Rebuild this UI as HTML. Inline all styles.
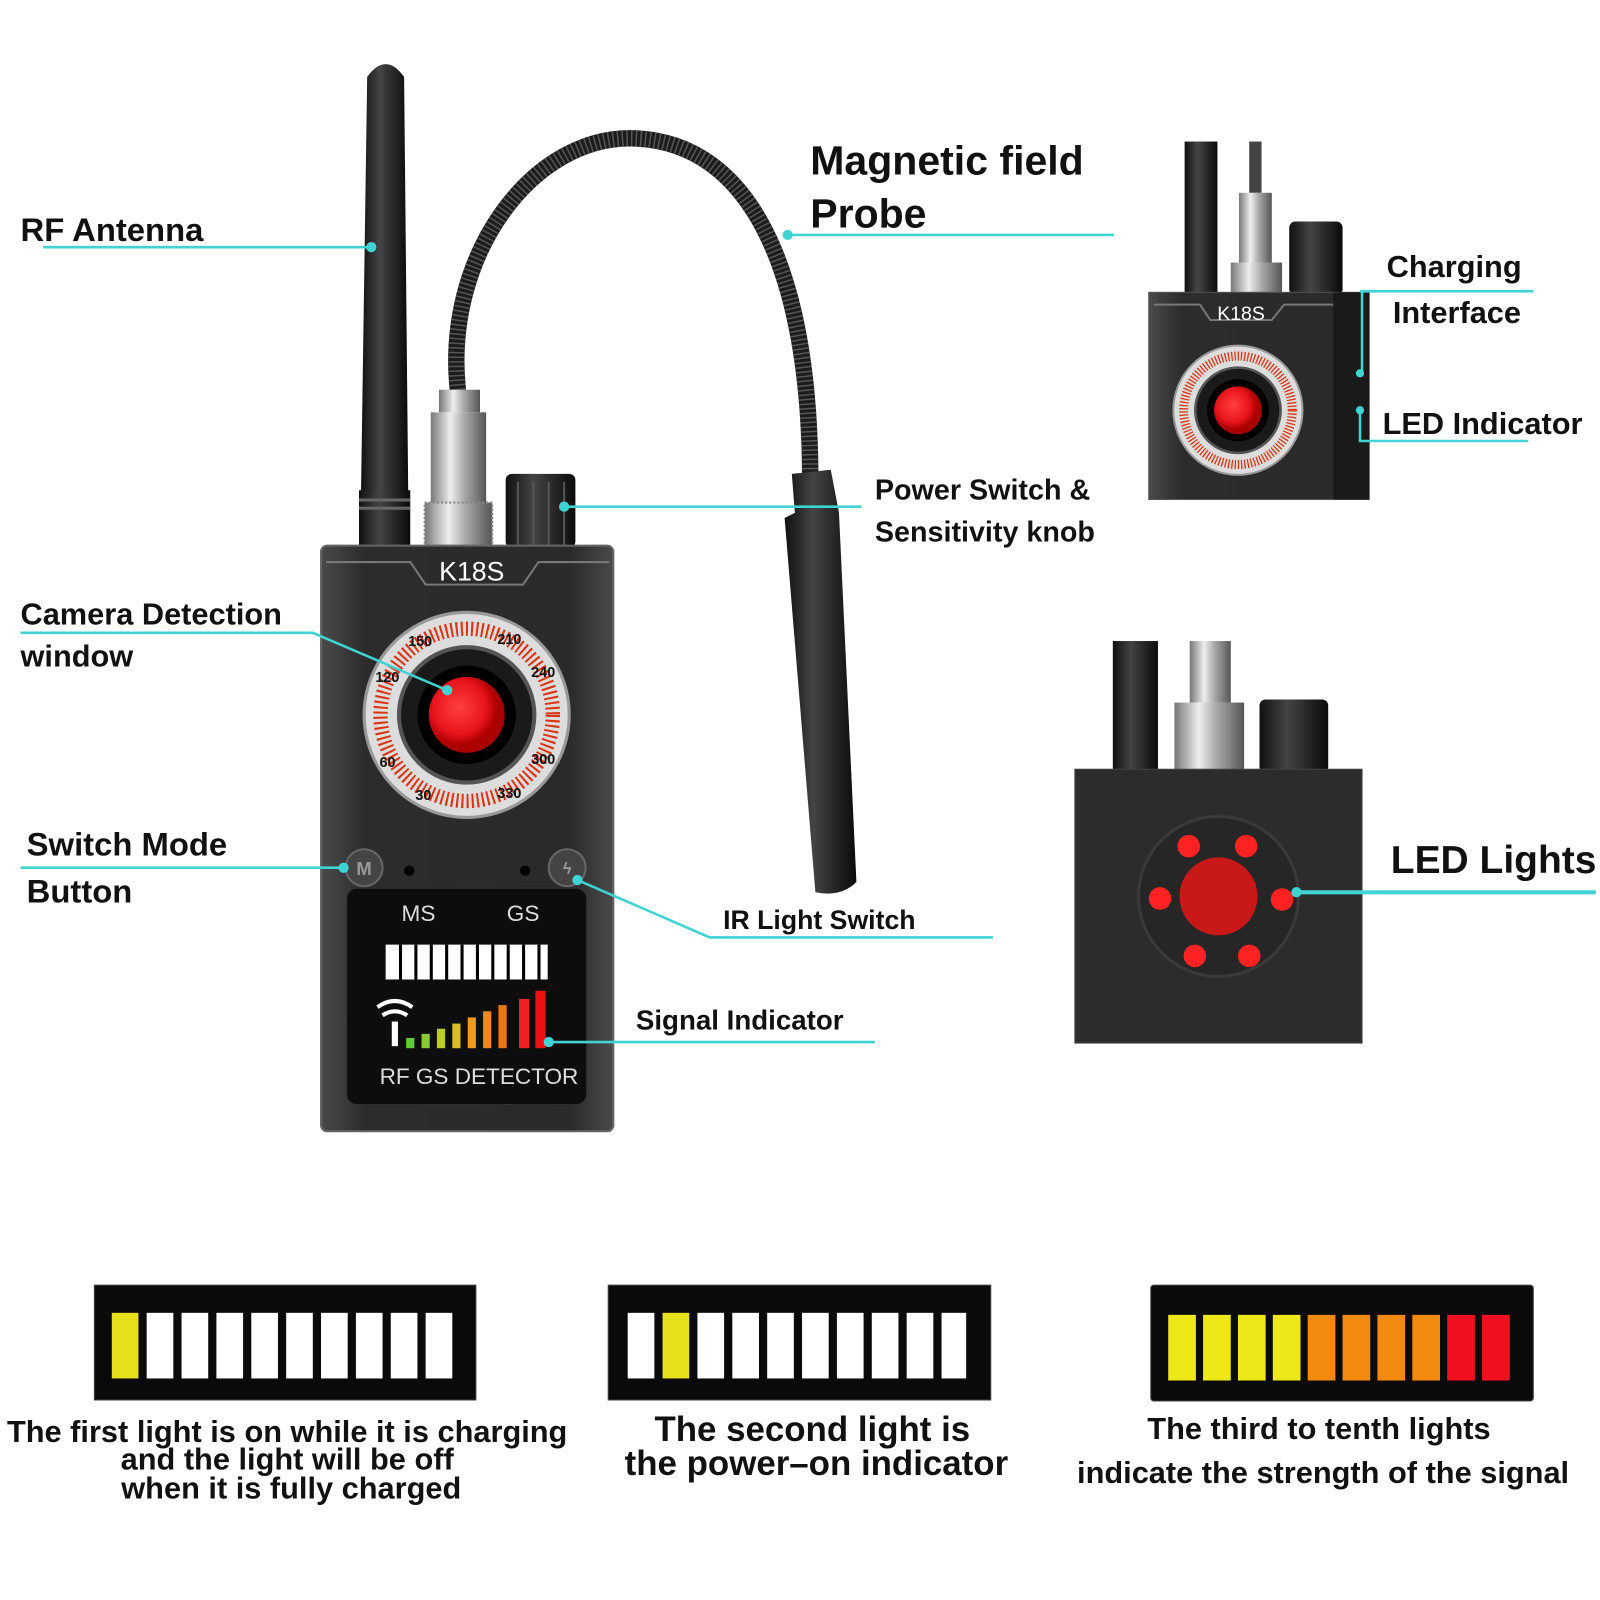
<!DOCTYPE html>
<html><head><meta charset="utf-8"><style>
html,body{margin:0;padding:0;background:#fff;width:1600px;height:1600px;overflow:hidden}
svg{display:block}
text{font-family:"Liberation Sans",sans-serif;font-weight:bold;fill:#111}
</style></head><body>
<svg width="1600" height="1600" viewBox="0 0 1560 1560" xmlns="http://www.w3.org/2000/svg">
<defs>
<linearGradient id="silver" x1="0" x2="1"><stop offset="0" stop-color="#777"/><stop offset=".35" stop-color="#eee"/><stop offset=".6" stop-color="#aaa"/><stop offset="1" stop-color="#555"/></linearGradient>
<linearGradient id="body" x1="0" x2="1"><stop offset="0" stop-color="#4a4a4a"/><stop offset=".15" stop-color="#2c2c2c"/><stop offset=".85" stop-color="#2a2a2a"/><stop offset="1" stop-color="#4a4a4a"/></linearGradient>
<linearGradient id="rod" x1="0" x2="1"><stop offset="0" stop-color="#111"/><stop offset=".4" stop-color="#444"/><stop offset="1" stop-color="#0a0a0a"/></linearGradient>
<radialGradient id="red" cx=".4" cy=".4"><stop offset="0" stop-color="#ff4040"/><stop offset=".7" stop-color="#e8141c"/><stop offset="1" stop-color="#a00"/></radialGradient>
<g id="dial">
<circle r="100" fill="#ddd" stroke="#999" stroke-width="3"/>
<circle r="84" fill="none" stroke="#d31" stroke-width="14" stroke-dasharray="2 3"/>
<circle r="66" fill="#1a1a1a" stroke="#555" stroke-width="4"/>
<circle r="48" fill="#000"/>
<circle r="37" fill="url(#red)"/>
</g>
</defs>

<!-- ===== MAIN DEVICE ===== -->
<!-- antenna -->
<path d="M358 75 Q376 50 394 75 L398 480 L352 480 Z" fill="url(#rod)"/>
<rect x="350" y="478" width="50" height="56" fill="url(#rod)"/>
<rect x="350" y="486" width="50" height="3" fill="#666"/>
<rect x="350" y="494" width="50" height="3" fill="#666"/>
<!-- gooseneck -->
<path d="M447 385 C430 250 520 130 620 135 C730 140 790 260 790 470" fill="none" stroke="#1c1c1c" stroke-width="16"/>
<path d="M447 385 C430 250 520 130 620 135 C730 140 790 260 790 470" fill="none" stroke="#555" stroke-width="16" stroke-dasharray="1.5 3"/>
<!-- probe handle -->
<path d="M772 462 L810 458 L818 500 L835 860 Q820 875 795 870 L765 505 L775 500 Z" fill="url(#rod)"/>
<!-- connector -->
<rect x="428" y="380" width="40" height="22" fill="url(#silver)"/>
<rect x="420" y="402" width="54" height="90" fill="url(#silver)"/>
<rect x="414" y="490" width="66" height="42" fill="url(#silver)"/>
<rect x="414" y="490" width="66" height="42" fill="none" stroke="#888" stroke-width="2" stroke-dasharray="2 2"/>
<!-- knob -->
<rect x="493" y="462" width="68" height="72" rx="6" fill="url(#rod)"/>
<g stroke="#555" stroke-width="2"><line x1="505" y1="470" x2="505" y2="532"/><line x1="520" y1="470" x2="520" y2="532"/><line x1="535" y1="470" x2="535" y2="532"/><line x1="550" y1="470" x2="550" y2="532"/></g>
<!-- body -->
<rect x="313" y="532" width="285" height="571" rx="6" fill="url(#body)" stroke="#666" stroke-width="2"/>
<path d="M318 548 L400 548 L415 570 L510 570 L525 548 L594 548" fill="none" stroke="#777" stroke-width="2"/>
<text x="460" y="566" font-size="26" fill="#fff" style="fill:#fff;font-weight:normal" text-anchor="middle">K18S</text>
<use href="#dial" x="455" y="697"/>
<g font-size="14" style="font-weight:normal">
<text x="398" y="630" fill="#222">150</text><text x="485" y="628" fill="#222">210</text>
<text x="518" y="660" fill="#222">240</text><text x="518" y="745" fill="#222">300</text>
<text x="485" y="778" fill="#222">330</text><text x="405" y="780" fill="#222">30</text>
<text x="370" y="748" fill="#222">60</text><text x="366" y="665" fill="#222">120</text>
</g>
<circle cx="355" cy="846" r="18" fill="#444" stroke="#666" stroke-width="2"/>
<text x="355" y="853" font-size="18" text-anchor="middle" style="fill:#999">M</text>
<circle cx="553" cy="846" r="18" fill="#444" stroke="#666" stroke-width="2"/>
<text x="553" y="852" font-size="16" text-anchor="middle" style="fill:#999">ϟ</text>
<circle cx="399" cy="849" r="5" fill="#000"/><circle cx="512" cy="849" r="5" fill="#000"/>
<!-- screen -->
<rect x="338" y="866" width="234" height="211" rx="10" fill="#0d0d0d" stroke="#333"/>
<text x="408" y="898" font-size="22" text-anchor="middle" style="fill:#ddd;font-weight:normal">MS</text>
<text x="510" y="898" font-size="22" text-anchor="middle" style="fill:#ddd;font-weight:normal">GS</text>
<rect x="376" y="921" width="158" height="34" fill="#fff"/>
<g fill="#000"><rect x="389" y="921" width="3" height="34"/><rect x="404" y="921" width="3" height="34"/><rect x="419" y="921" width="3" height="34"/><rect x="434" y="921" width="3" height="34"/><rect x="449" y="921" width="3" height="34"/><rect x="464" y="921" width="3" height="34"/><rect x="479" y="921" width="3" height="34"/><rect x="494" y="921" width="3" height="34"/><rect x="509" y="921" width="3" height="34"/><rect x="524" y="921" width="3" height="34"/></g>
<path d="M368 982 Q385 970 402 982 M373 990 Q385 982 397 990" stroke="#fff" stroke-width="4" fill="none"/>
<rect x="382" y="996" width="6" height="24" fill="#fff"/>
<rect x="396" y="1012" width="8" height="10" fill="#6c3"/>
<rect x="411" y="1008" width="8" height="14" fill="#8c3"/>
<rect x="426" y="1003" width="8" height="19" fill="#bc2"/>
<rect x="441" y="998" width="8" height="24" fill="#db2"/>
<rect x="456" y="992" width="8" height="30" fill="#e92"/>
<rect x="471" y="986" width="8" height="36" fill="#e82"/>
<rect x="486" y="980" width="8" height="42" fill="#e71"/>
<rect x="506" y="974" width="10" height="48" fill="#e22"/>
<rect x="522" y="966" width="10" height="56" fill="#e11"/>
<text x="467" y="1057" font-size="22" text-anchor="middle" style="fill:#ddd;font-weight:normal">RF GS DETECTOR</text>

<!-- ===== TOP RIGHT IMAGE ===== -->
<rect x="1155" y="138" width="32" height="150" fill="url(#rod)"/>
<rect x="1218" y="138" width="12" height="50" fill="#444"/>
<rect x="1208" y="188" width="32" height="70" fill="url(#silver)"/>
<rect x="1200" y="256" width="50" height="30" fill="url(#silver)"/>
<rect x="1257" y="216" width="52" height="72" rx="6" fill="url(#rod)"/>
<rect x="1120" y="285" width="215" height="202" fill="url(#body)" stroke="#555"/>
<path d="M1125 297 L1170 297 L1180 312 L1240 312 L1252 297 L1300 297" fill="none" stroke="#777" stroke-width="2"/>
<text x="1210" y="312" font-size="19" text-anchor="middle" style="fill:#fff;font-weight:normal">K18S</text>
<use href="#dial" transform="translate(1207 400) scale(0.63)"/>
<rect x="1300" y="285" width="35" height="202" fill="#1a1a1a"/>

<!-- ===== MIDDLE RIGHT IMAGE ===== -->
<rect x="1085" y="625" width="44" height="130" fill="url(#rod)"/>
<rect x="1160" y="625" width="40" height="60" fill="url(#silver)"/>
<rect x="1145" y="685" width="68" height="65" fill="url(#silver)"/>
<rect x="1228" y="682" width="67" height="72" rx="6" fill="url(#rod)"/>
<rect x="1048" y="750" width="280" height="267" fill="#2c2c2c" stroke="#444"/>
<circle cx="1188" cy="874" r="78" fill="#262626" stroke="#3a3a3a" stroke-width="3"/>
<circle cx="1188" cy="874" r="38" fill="#c81818"/>
<g fill="#f22"><circle cx="1159" cy="825" r="11"/><circle cx="1215" cy="825" r="11"/><circle cx="1131" cy="876" r="11"/><circle cx="1250" cy="877" r="11"/><circle cx="1165" cy="932" r="11"/><circle cx="1218" cy="932" r="11"/></g>

<!-- ===== CALLOUT LINES ===== -->
<g stroke="#3fd3d3" stroke-width="2.5" fill="none">
<path d="M42 241 L362 241"/>
<path d="M768 229 L1086 229"/>
<path d="M550 494 L840 494"/>
<path d="M20 617 L305 617 L436 673"/>
<path d="M20 846 L335 846"/>
<path d="M563 858 L692 914 L968 914"/>
<path d="M535 1016 L853 1016"/>
<path d="M1326 284 L1495 284 M1328 284 L1328 364"/>
<path d="M1326 400 L1326 430 L1490 430"/>
<path d="M1264 870 L1556 870" stroke-width="4"/>
</g>
<g fill="#3fd3d3"><circle cx="362" cy="241" r="5"/><circle cx="768" cy="229" r="5"/><circle cx="550" cy="494" r="5"/><circle cx="436" cy="673" r="5"/><circle cx="335" cy="846" r="5"/><circle cx="563" cy="858" r="5"/><circle cx="535" cy="1016" r="5"/><circle cx="1326" cy="364" r="4"/><circle cx="1326" cy="400" r="4"/><circle cx="1264" cy="870" r="5"/></g>

<!-- ===== LABELS ===== -->
<text x="20" y="235" font-size="32">RF Antenna</text>
<text x="790" y="170" font-size="40">Magnetic field</text>
<text x="790" y="222" font-size="40">Probe</text>
<text x="1352" y="270" font-size="30">Charging</text>
<text x="1358" y="315" font-size="30">Interface</text>
<text x="1348" y="423" font-size="30">LED Indicator</text>
<text x="853" y="487" font-size="28">Power Switch &amp;</text>
<text x="853" y="528" font-size="28">Sensitivity knob</text>
<text x="20" y="609" font-size="30">Camera Detection</text>
<text x="20" y="650" font-size="30">window</text>
<text x="26" y="834" font-size="32">Switch Mode</text>
<text x="26" y="880" font-size="32">Button</text>
<text x="705" y="906" font-size="26">IR Light Switch</text>
<text x="620" y="1004" font-size="27">Signal Indicator</text>
<text x="1356" y="851" font-size="38">LED Lights</text>

<!-- ===== BOTTOM BARS ===== -->
<rect x="92" y="1253" width="372" height="112" fill="#0a0a0a" stroke="#444"/>
<g fill="#fff">
<rect x="143" y="1280" width="26" height="64"/><rect x="177" y="1280" width="26" height="64"/><rect x="211" y="1280" width="26" height="64"/><rect x="245" y="1280" width="26" height="64"/><rect x="279" y="1280" width="26" height="64"/><rect x="313" y="1280" width="26" height="64"/><rect x="347" y="1280" width="26" height="64"/><rect x="381" y="1280" width="26" height="64"/><rect x="415" y="1280" width="26" height="64"/>
</g>
<rect x="109" y="1280" width="26" height="64" fill="#e6e01a"/>

<rect x="593" y="1253" width="373" height="112" fill="#0a0a0a" stroke="#444"/>
<g fill="#fff">
<rect x="612" y="1280" width="26" height="64"/><rect x="680" y="1280" width="26" height="64"/><rect x="714" y="1280" width="26" height="64"/><rect x="748" y="1280" width="26" height="64"/><rect x="782" y="1280" width="26" height="64"/><rect x="816" y="1280" width="26" height="64"/><rect x="850" y="1280" width="26" height="64"/><rect x="884" y="1280" width="26" height="64"/><rect x="918" y="1280" width="24" height="64"/>
</g>
<rect x="646" y="1280" width="26" height="64" fill="#e6e01a"/>

<rect x="1122" y="1253" width="373" height="113" rx="3" fill="#0a0a0a" stroke="#444"/>
<rect x="1139" y="1282" width="27" height="64" fill="#efe818"/><rect x="1173" y="1282" width="27" height="64" fill="#efe818"/><rect x="1207" y="1282" width="27" height="64" fill="#efe818"/><rect x="1241" y="1282" width="27" height="64" fill="#efe818"/>
<rect x="1275" y="1282" width="27" height="64" fill="#f28a10"/><rect x="1309" y="1282" width="27" height="64" fill="#f28a10"/><rect x="1343" y="1282" width="27" height="64" fill="#f28a10"/><rect x="1377" y="1282" width="27" height="64" fill="#f28a10"/>
<rect x="1411" y="1282" width="27" height="64" fill="#f01020"/><rect x="1445" y="1282" width="27" height="64" fill="#f01020"/>

<g font-size="30" text-anchor="middle">
<text x="280" y="1406">The first light is on while it is charging</text>
<text x="280" y="1433">and the light will be off</text>
<text x="284" y="1461">when it is fully charged</text>
<text x="792" y="1405" font-size="34">The second light is</text>
<text x="796" y="1438" font-size="34">the power–on indicator</text>
<text x="1286" y="1403">The third to tenth lights</text>
<text x="1290" y="1446">indicate the strength of the signal</text>
</g>
</svg>
</body></html>
